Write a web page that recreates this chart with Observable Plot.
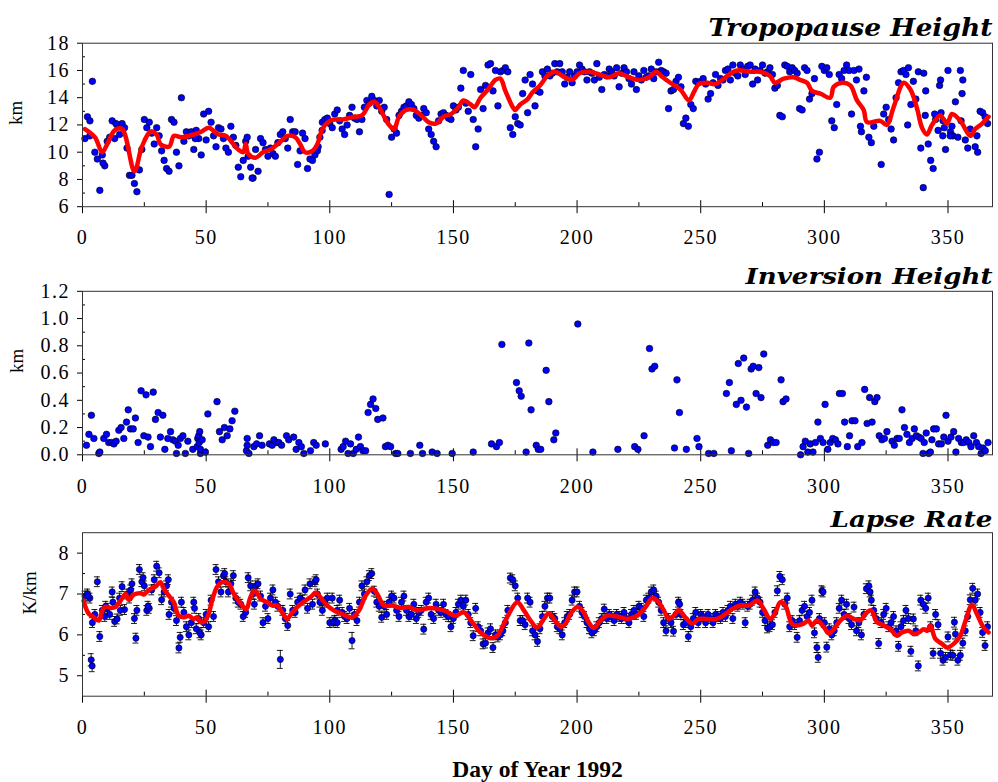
<!DOCTYPE html>
<html><head><meta charset="utf-8">
<script src="https://cdn.jsdelivr.net/npm/d3@7"></script>
<script src="https://cdn.jsdelivr.net/npm/@observablehq/plot@0.6"></script>
<style>
body{margin:0;background:#fff;}
#wrap{position:relative;width:998px;height:782px;overflow:hidden;}
.panel{position:absolute;left:0;}
g[aria-label$="tick label"] text{letter-spacing:1.5px;font-family:"Liberation Serif","Times New Roman",serif !important;font-variant:normal !important;}
</style></head><body><div id="wrap"></div>
<script>
// ---------- Tropopause height (km), one value per day, day 1..366 ----------
const tpKm = [
11.0,12.6,12.3,15.2,10.0,9.5,7.2,9.8,9.0,10.8,
11.1,12.3,11.0,12.0,11.3,12.1,11.8,10.3,8.3,8.3,
7.7,7.1,8.7,10.2,12.4,11.8,12.2,11.4,10.6,11.8,
11.2,10.1,9.4,8.8,8.6,12.4,12.2,10.0,9.0,14.0,
10.8,11.5,11.2,11.5,10.2,11.6,11.0,9.8,12.8,10.9,
13.0,12.2,11.2,10.4,11.8,11.7,11.0,10.3,10.0,11.9,
11.1,10.5,8.9,8.2,9.4,10.8,9.7,8.9,8.1,10.2,
8.6,11.0,10.7,10.2,9.7,10.3,9.9,9.7,10.7,11.3,
11.5,11.0,10.3,12.4,11.5,11.5,9.1,10.1,11.4,11.0,
8.8,9.5,9.4,9.8,10.1,11.1,12.2,12.4,12.5,12.1,
11.8,12.8,13.1,12.3,11.7,11.3,12.0,12.7,13.3,12.5,
12.4,11.5,12.4,13.3,13.8,13.6,14.1,13.8,13.4,13.8,
13.0,13.3,12.4,6.9,11.1,11.7,11.4,12.7,13.0,13.3,
13.4,13.7,13.5,13.2,12.7,12.5,12.7,13.2,12.9,11.7,
11.3,10.8,10.4,12.3,12.8,12.9,12.7,12.5,12.4,13.4,
13.1,13.3,14.7,16.0,13.6,13.0,15.7,12.4,10.4,11.7,
14.6,13.2,14.9,16.4,16.5,14.5,16.0,13.4,15.9,16.0,
16.2,15.9,11.8,11.3,12.6,12.1,12.0,14.3,15.3,12.9,
15.7,15.0,13.4,14.5,14.4,15.9,15.6,16.1,15.6,15.8,
16.5,15.9,16.5,15.9,15.0,15.5,15.9,15.1,15.6,15.9,
16.4,16.1,15.9,15.3,15.9,15.8,15.3,16.5,15.5,14.6,
15.7,15.6,16.1,15.9,15.6,16.2,14.8,15.8,16.2,15.9,
15.4,15.0,15.9,14.6,15.6,15.3,16.0,15.5,15.6,16.1,
15.4,15.9,16.6,16.0,15.9,15.8,13.2,14.5,14.6,15.2,
15.5,14.8,12.1,12.5,11.9,13.5,13.2,15.2,15.1,15.2,
15.4,15.0,13.9,14.3,15.1,15.7,14.9,15.4,15.3,16.0,
16.1,15.3,16.4,15.8,15.6,16.4,16.1,15.7,16.3,16.4,
15.0,16.1,15.3,16.0,16.4,15.8,15.9,16.2,15.7,14.7,
14.9,12.7,12.6,16.4,16.3,15.9,16.2,16.0,15.8,13.2,
13.1,16.2,16.0,13.9,14.3,15.4,9.5,10.0,16.3,16.0,
16.2,15.7,12.3,11.8,13.5,15.7,15.4,16.0,16.4,16.0,
12.8,16.0,15.3,16.1,11.5,14.5,15.5,11.1,10.7,11.9,
null,null,9.1,12.8,13.3,12.4,11.7,10.9,14.0,15.1,
15.9,16.0,15.7,16.2,13.5,15.2,13.9,15.9,10.3,7.4,
14.5,10.6,9.4,8.8,12.4,11.6,15.3,12.3,10.2,16.0,
11.5,11.2,13.7,11.1,16.0,15.3,10.9,10.3,11.7,null,
10.4,10.0,13.0,12.9,12.6,12.1];
// second soundings on some days [day, km]
const tpExtra = [[3,11.2],[8.3,9.2],[13.5,12.1],[45.6,11.0],[66.6,11.1],[68.6,8.1],[95.3,10.4],[96.9,11.6],
[314.6,11.9],[333.7,12.0],[340.2,15.8],[340.8,12.7],[344.6,12.8],[346.6,14.9],[347.2,12.9],[347.9,11.2],
[348.5,11.8],[350.9,11.2],[351.6,11.9],[355.3,12.3],[355.7,14.3],[361.7,11.2]];
// smoothed tropopause height [day, km]
const tpSmooth = [[1,11.7],[5,11.1],[8,10.0],[10,10.6],[13,11.6],[16,11.7],[21,8.6],[24,10.4],[27.5,11.5],[30,11.3],
[31.5,10.6],[35,10.4],[37,11.2],[40,11.1],[45,11.3],[48,11.5],[51,11.8],[55,11.3],[58,11.2],[61,10.6],[63,10.2],
[65,10.0],[66,10.6],[67,9.9],[70,9.6],[73,10.0],[76,10.2],[79,10.6],[83,11.2],[86,11.1],[88,10.6],[90,10.0],
[93,10.1],[95,10.6],[97,11.7],[100,12.3],[103,12.4],[105,12.4],[110,12.6],[113,12.7],[116,13.5],[118,13.7],
[120,13.3],[122,12.6],[124,12.0],[126,11.7],[128,12.6],[131,13.1],[134,13.1],[137,12.7],[140,12.2],[143,12.1],
[146,12.6],[149,12.8],[152,13.3],[154,13.8],[157,13.5],[158.5,13.3],[161,14.0],[164,14.6],[167,15.3],[169,15.4],
[171,14.5],[174,13.3],[175,13.1],[177,13.5],[180,13.9],[182,14.4],[185,14.9],[188,15.6],[191,15.9],[195,15.5],
[198,15.3],[201,15.8],[205,15.9],[209,15.7],[213,15.5],[217,15.8],[221,15.5],[225,15.3],[229,15.5],[232,15.9],
[234,15.6],[237.7,15.1],[241.8,14.6],[245.2,13.8],[247.2,14.4],[249.2,15.0],[252.6,15.1],[256,15.0],[260.7,15.6],
[264.7,16.0],[270,15.9],[274,15.9],[278,15.6],[280,15.1],[283.6,15.4],[287.6,15.5],[290.3,15.3],[293,15.1],
[295,14.5],[298.4,14.3],[302.4,14.0],[303.8,14.8],[307.2,15.1],[310.5,14.9],[313.2,13.8],[315.9,13.1],[317.3,12.2],
[322.6,12.3],[325.3,12.0],[328,13.3],[332.1,15.1],[334.8,14.6],[337.5,13.2],[339.5,11.8],[341.5,11.3],[343.5,12.0],
[346.9,12.7],[349.6,12.1],[351.6,12.8],[355,12.3],[359,11.2],[361,11.7],[363.8,12.1],[366.4,12.6]];

// ---------- Inversion height (km) [day, km] ----------
const inversion = [[1.6,0.07],[2.6,0.15],[3.6,0.29],[4.6,0.12],[6.6,0.01],[7.0,0.02],[8.6,0.12],[9.7,0.15],[10.6,0.09],
[11.7,0.09],[12.7,0.08],[13.6,0.10],[14.7,0.18],[15.6,0.20],[16.7,0.12],[17.8,0.24],[18.5,0.33],[19.4,0.19],[20.5,0.19],
[21.4,0.27],[22.5,0.09],[23.7,0.47],[24.8,0.14],[25.7,0.44],[26.5,0.13],[27.5,0.06],[28.6,0.46],[29.5,0.26],[30.6,0.31],
[31.5,0.13],[32.5,0.29],[33.3,0.04],[34.5,0.12],[35.6,0.17],[36.5,0.11],[37.6,0.10],[38.0,0.01],[38.7,0.07],[39.6,0.12],
[40.6,0.14],[41.6,0.01],[42.6,0.10],[44.6,0.04],[46.4,0.06],[46.6,0.12],[47.0,0.14],[47.2,0.09],[47.4,0.17],[47.7,0.01],
[47.7,0.04],[48.4,0.11],[49.7,0.02],[50.7,0.30],[54.4,0.39],[55.4,0.17],[56.5,0.11],[57.4,0.20],[58.5,0.14],[59.6,0.19],
[60.5,0.25],[61.6,0.32],[66.3,0.03],[66.6,0.12],[66.6,0.07],[67.3,0.01],[69.3,0.06],[70.4,0.08],[71.6,0.14],[72.6,0.07],
[75.6,0.08],[76.7,0.07],[77.4,0.11],[78.4,0.09],[79.4,0.09],[80.5,0.07],[82.5,0.14],[83.4,0.11],[85.4,0.13],[86.4,0.04],
[87.5,0.09],[88.5,0.06],[89.5,0.01],[92.2,0.03],[93.5,0.09],[94.5,0.07],[98.2,0.08],
[104.6,0.04],[105.4,0.06],[106.4,0.10],[107.4,0.01],[108.4,0.08],[109.5,0.01],[110.7,0.04],[111.6,0.13],[112.4,0.06],
[113.4,0.03],[114.5,0.03],[115.5,0.31],[116.5,0.37],[117.5,0.41],[118.6,0.34],[119.4,0.26],[121.5,0.27],[122.5,0.06],
[123.5,0.07],[124.6,0.06],[126.6,0.01],[127.5,0.01],[132.6,0.01],[136.4,0.07],[137.5,0.01],[141.4,0.02],[143.4,0.01],
[149.5,0.01],[158.0,0.02],[165.4,0.08],[167.4,0.06],[168.6,0.09],[169.6,0.81],[175.5,0.53],[176.6,0.47],[177.4,0.43],
[179.4,0.02],[180.5,0.82],[181.4,0.33],[183.5,0.07],[184.3,0.04],[185.3,0.04],[187.5,0.62],[188.6,0.39],[190.6,0.11],
[191.4,0.16],[200.3,0.96],[206.4,0.02],[216.5,0.04],[223.3,0.06],[224.6,0.04],[227.1,0.14],[229.3,0.78],[230.3,0.63],
[231.4,0.65],
[239.4,0.05],[240.4,0.55],[241.4,0.31],[244.2,0.04],[248.5,0.12],[249.3,0.06],[253.2,0.01],[255.3,0.01],[260.4,0.45],
[261.6,0.53],[262.4,0.03],[264.4,0.37],[265.2,0.67],[266.3,0.40],[267.4,0.71],[268.5,0.35],[269.4,0.01],[270.4,0.63],
[271.2,0.65],[272.4,0.45],[273.5,0.64],[274.4,0.42],[275.5,0.74],[277.1,0.07],[278.2,0.11],[279.3,0.09],[280.5,0.09],
[282.5,0.55],[283.3,0.39],[284.5,0.41],[290.4,0.00],[291.4,0.06],[292.3,0.10],[293.3,0.02],[294.3,0.08],[295.4,0.02],
[296.4,0.09],[297.4,0.24],[298.4,0.12],[299.5,0.09],[300.3,0.37],[301.4,0.04],[302.4,0.09],[303.4,0.12],[304.5,0.11],
[305.5,0.08],[306.1,0.45],[307.3,0.45],[308.2,0.24],[309.3,0.06],[310.2,0.14],[311.2,0.25],[312.4,0.25],[313.5,0.06],
[315.2,0.09],[316.3,0.48],[317.3,0.23],[318.3,0.42],[319.3,0.24],[320.4,0.39],[321.3,0.42],[322.2,0.14],[323.3,0.11],
[324.3,0.12],[325.3,0.17],[327.4,0.10],[328.3,0.07],[329.4,0.12],[330.3,0.12],[331.4,0.33],[332.4,0.20],[333.4,0.15],
[334.4,0.09],[335.5,0.12],[336.4,0.19],[337.2,0.14],[338.2,0.13],[339.1,0.12],[339.9,0.01],[340.4,0.09],[341.2,0.16],
[342.2,0.01],[342.9,0.02],[343.5,0.11],[344.2,0.19],[345.3,0.19],[346.2,0.08],[347.3,0.08],[348.3,0.13],[349.2,0.29],
[350.0,0.10],[351.2,0.13],[352.3,0.17],[353.2,0.02],[354.3,0.12],[355.4,0.09],[356.3,0.09],[357.4,0.11],[358.4,0.09],
[359.3,0.06],[360.4,0.14],[361.5,0.09],[362.4,0.06],[363.4,0.01],[364.2,0.05],[365.1,0.03],[366.2,0.09]];

// ---------- Lapse rate (K/km), one value per day, day 1..366 ----------
const lrKm = [
6.95,7.0,6.9,6.3,6.5,7.3,5.96,6.6,6.45,6.65,
6.5,7.05,6.33,6.39,6.9,7.18,6.62,7.0,6.9,7.25,
6.4,6.6,7.6,7.3,7.2,6.6,6.65,7.1,7.35,7.68,
7.52,6.86,7.05,7.2,6.5,6.8,6.65,6.35,5.68,6.8,
6.55,6.2,6.0,6.3,6.8,6.15,6.4,6.0,6.3,6.5,
6.2,6.85,6.45,7.6,7.3,7.05,7.45,7.3,7.05,7.25,
7.45,6.9,6.8,6.75,6.45,6.55,7.4,7.2,7.0,7.2,
7.25,6.95,6.3,6.7,6.4,6.9,7.1,6.8,6.7,5.4,
6.6,6.4,6.23,7.0,6.6,6.55,6.8,6.9,6.85,7.1,
6.65,7.25,6.75,7.3,7.0,6.8,6.6,6.8,6.9,6.3,
6.9,6.35,6.6,6.85,6.55,6.45,6.4,6.65,5.86,6.5,
6.35,6.8,7.2,7.0,7.3,7.45,7.5,7.07,6.8,6.7,
6.43,6.7,6.5,6.8,6.95,6.9,6.6,6.45,6.8,6.95,
6.6,6.45,6.5,6.75,6.4,6.55,6.6,6.14,6.8,6.9,
6.5,6.4,6.75,6.6,6.55,6.75,6.5,6.45,6.2,6.4,
6.55,6.75,6.85,6.7,6.85,6.5,6.3,5.98,6.65,6.2,
6.1,5.78,5.8,6.05,6.15,5.69,6.0,5.95,6.0,6.1,
6.3,6.6,7.39,7.35,7.2,6.9,6.35,6.35,6.25,6.9,
6.8,6.1,6.0,5.84,6.15,6.45,6.7,6.9,6.9,6.45,
6.4,6.2,6.15,6.0,6.3,6.45,6.5,6.85,7.05,7.05,
6.7,6.55,6.45,6.3,6.15,6.05,6.1,6.2,6.3,6.4,
6.63,6.4,6.5,6.45,6.35,6.5,6.45,6.4,6.55,6.4,
6.3,6.5,6.6,6.5,6.7,6.65,6.45,6.85,6.9,7.05,
7.1,6.95,6.8,6.6,6.3,6.1,6.4,6.3,6.09,6.5,
6.8,6.5,6.25,6.3,5.96,6.2,6.4,6.55,6.3,6.5,
6.45,6.3,6.5,6.4,6.3,6.5,6.45,6.4,6.55,6.45,
6.6,6.7,6.4,6.75,6.7,6.8,6.75,6.3,6.7,6.75,
6.85,7.05,6.9,6.8,6.55,6.35,6.17,6.2,6.25,6.55,
7.08,7.43,7.35,6.75,6.9,6.2,6.35,6.25,5.94,6.35,
6.6,6.7,6.45,6.55,6.85,6.05,5.69,6.4,7.08,6.3,
5.7,6.15,6.0,6.1,6.3,6.65,6.85,6.5,6.75,6.4,
6.25,6.68,6.1,6.3,6.0,6.5,7.13,7.2,6.85,6.6,
6.4,5.79,6.3,6.5,6.65,6.2,6.3,6.45,6.1,5.72,
6.2,6.35,6.6,6.4,5.6,6.39,6.1,5.24,6.85,6.75,
6.65,6.9,6.2,5.55,6.5,6.25,5.55,5.38,5.45,5.95,
5.51,5.5,6.02,5.38,5.5,5.8,6.1,6.45,6.86,7.14,
6.85,7.0,6.55,6.06,5.74,6.2];
// second soundings [day, K/km]
const lrExtra = [[2.3,6.95],[3.5,5.39],[3.9,5.24],[9.4,6.7],[12.3,6.8],[15.3,6.6],[19.5,7.1],[21.6,5.92],[24.5,7.4],
[26.5,6.7],[34.7,7.35],[39.5,5.94],[45.3,6.65],[47.5,6.05],[57.5,7.5],[69.5,6.75],[94.5,7.35],[101.5,6.31],[103,6.3],
[241.5,6.75],[297.5,5.45],[299.5,7.05],[318.5,7.05],[352.6,6.31]];
const lrErrDefault = 0.12;
const lrErrWide = [[3.5,0.15],[3.9,0.14],[80,0.22],[109,0.2]];
// smoothed lapse rate [day, K/km]
const lrSmooth = [[0.5,6.84],[1.2,6.68],[2.6,6.51],[4.6,6.43],[6.6,6.35],[8,6.6],[9.3,6.69],[11.3,6.66],[13.3,6.68],
[15.4,6.84],[17.4,7.0],[18.7,6.86],[20.8,6.99],[23.5,7.02],[24.8,6.99],[26.8,7.1],[29.5,7.18],[31.5,7.29],[32.9,7.13],
[34.9,6.96],[36.9,6.8],[38.9,6.47],[41,6.43],[43,6.47],[45,6.39],[46.4,6.43],[47.7,6.31],[49.7,6.35],[51,6.51],
[52.4,6.84],[54.4,7.17],[56.5,7.29],[59.2,7.25],[61.2,7.0],[64.6,6.72],[66.3,6.63],[67.9,6.92],[69.9,7.08],[72,6.88],
[74.7,6.8],[76.7,6.72],[78.7,6.72],[80.7,6.55],[82.7,6.39],[84.8,6.55],[87.5,6.72],[90.2,6.84],[92.9,6.96],[94.2,7.04],
[96.2,6.92],[98.9,6.72],[101.6,6.6],[104.3,6.53],[109,6.43],[111.8,6.6],[114.5,6.96],[117.1,7.13],[119.2,7.0],
[121.9,6.72],[125.2,6.72],[128.6,6.66],[132,6.68],[135.3,6.6],[140.7,6.66],[146.1,6.6],[150.8,6.47],[154.2,6.55],
[157.6,6.31],[161,6.06],[165,5.92],[167.7,5.98],[170.4,6.27],[172.4,6.51],[175.8,6.8],[178.5,6.6],[181.2,6.35],
[183.9,6.18],[186.6,6.39],[188.6,6.53],[190.6,6.39],[193.3,6.2],[195.3,6.27],[197.3,6.51],[200.3,6.69],[202.7,6.55],
[204.7,6.31],[206.8,6.17],[209.5,6.35],[212.2,6.47],[216.2,6.45],[220.2,6.39],[224.3,6.47],[227.7,6.68],[230.4,6.9],
[232.4,6.84],[235.1,6.6],[237.1,6.39],[239.1,6.47],[241.1,6.6],[243.8,6.43],[246.5,6.28],[249.2,6.39],[252.6,6.39],
[256.6,6.39],[260,6.51],[262.7,6.63],[266,6.72],[269.4,6.72],[273,6.84],[275.5,6.63],[278.2,6.39],[280.2,6.55],
[282.2,6.8],[284.2,6.72],[286.9,6.27],[289,6.23],[291.7,6.28],[293.7,6.35],[295,6.23],[297,6.35],[299.7,6.2],
[301.8,6.04],[303.8,6.14],[306.5,6.35],[309.2,6.47],[311.9,6.39],[314.6,6.36],[316.6,6.51],[318.9,6.6],[321.3,6.31],
[324,6.23],[326.7,6.14],[329.4,5.98],[331.4,6.06],[334.1,6.1],[336.1,6.02],[338.2,6.06],[340.2,6.14],[341.5,6.1],
[342.9,6.23],[344.9,5.9],[347.6,5.78],[349.6,5.69],[352.3,5.78],[355,5.98],[356.9,6.31],[359.7,6.74],[361.7,6.51],
[364.4,6.18],[366.4,6.06]];

// ---------- axes ----------
const xDomain = [0, 368];
const xMajor = [0,50,100,150,200,250,300,350];
const xMinor = [25,75,125,175,225,275,325];
const tpTicks = [6,8,10,12,14,16,18], tpMinor = [7,9,11,13,15,17];
const ivTicks = [0,0.2,0.4,0.6,0.8,1.0,1.2], ivMinor = [0.1,0.3,0.5,0.7,0.9,1.1];
const lrTicks = [5,6,7,8], lrMinor = [5.5,6.5,7.5];
const xTitle = "Day of Year 1992";

// ---------- build ----------
const W = 998, ML = 82, MR = 6, IH = 163.5, IW = W - ML - MR;
const SERIF = '"Liberation Serif", "Times New Roman", serif';
const pairs = a => a.map(([day, v]) => ({day, v}));
const daily = a => a.map((v, i) => ({day: i + 1, v})).filter(d => d.v != null);
const tpRows = daily(tpKm).concat(pairs(tpExtra));
const ivRows = pairs(inversion);
const wide = new Map(lrErrWide);
const lrRows = daily(lrKm).concat(pairs(lrExtra)).map(d => ({...d, e: wide.get(d.day) ?? lrErrDefault}));

const dotStyle = {x: "day", y: "v", r: 3.3, fill: "#0000ff", stroke: "#000", strokeWidth: 0.6};
const lineStyle = {x: "day", y: "v", stroke: "#ff0000", strokeWidth: 4.5, strokeLinejoin: "round", strokeLinecap: "round", curve: "catmull-rom"};

function panel({top, marginTop, height, yDomain, yMajor, yMinor, yFmt, ylabel, ylabelDx, title, titleDy, titleSize, titleLen, marks, extra = []}) {
  const chart = Plot.plot({
    width: W, height, marginLeft: ML, marginRight: MR, marginTop, marginBottom: height - marginTop - IH,
    style: {fontFamily: SERIF, fontSize: "20px", color: "#000", background: "#fff", overflow: "visible"},
    x: {domain: xDomain},
    y: {domain: yDomain},
    marks: [
      Plot.axisX({ticks: xMajor, tickSize: 7, tickPadding: 16.5, label: null, tickFormat: d3.format("d"), fontFamily: SERIF, fontSize: 20}),
      Plot.axisY({ticks: yMajor, tickSize: 5, tickPadding: 7.5, label: null, tickFormat: yFmt, fontFamily: SERIF, fontSize: 20}),
      Plot.tickX(xMajor, {x: d => d, insetTop: IH - 6, stroke: "#000"}),
      Plot.tickX(xMinor, {x: d => d, insetTop: IH - 4, stroke: "#000"}),
      Plot.tickY(yMinor, {y: d => d, insetRight: IW - 3, stroke: "#000"}),
      ...marks,
      Plot.frame({stroke: "#333"}),
      Plot.text([title], {text: d => d, frameAnchor: "top-right", textAnchor: "end", lineAnchor: "bottom", dy: titleDy,
        fontFamily: '"DejaVu Serif", serif', fontWeight: "bold", fontStyle: "italic", fontSize: titleSize, fill: "#000"}),
      Plot.text([ylabel], {text: d => d, frameAnchor: "left", rotate: -90, dx: ylabelDx, fontSize: 19, fontFamily: SERIF, fill: "#000"}),
      ...extra
    ]
  });
  chart.querySelectorAll("text").forEach(t => {
    if (t.textContent === title) { t.setAttribute("textLength", titleLen); t.setAttribute("lengthAdjust", "spacingAndGlyphs"); }
  });
  const div = document.createElement("div");
  div.className = "panel";
  div.style.top = top + "px";
  div.appendChild(chart);
  document.getElementById("wrap").appendChild(div);
}

panel({top: 0, marginTop: 42.7, height: 250, yDomain: [6, 18], yMajor: tpTicks, yMinor: tpMinor, yFmt: d3.format("d"),
  ylabel: "km", ylabelDx: -67, title: "Tropopause Height", titleDy: -7.7, titleSize: 25, titleLen: 284,
  marks: [Plot.dot(tpRows, dotStyle), Plot.line(pairs(tpSmooth), lineStyle)]});

panel({top: 250, marginTop: 40.8, height: 250, yDomain: [0, 1.2], yMajor: ivTicks, yMinor: ivMinor, yFmt: d3.format(".1f"),
  ylabel: "km", ylabelDx: -66, title: "Inversion Height", titleDy: -7.5, titleSize: 23, titleLen: 247,
  marks: [Plot.dot(ivRows, dotStyle)]});

panel({top: 500, marginTop: 32.2, height: 282, yDomain: [4.5, 8.5], yMajor: lrTicks, yMinor: lrMinor, yFmt: d3.format("d"),
  ylabel: "K/km", ylabelDx: -53, title: "Lapse Rate", titleDy: -6.2, titleSize: 23, titleLen: 162,
  marks: [
    Plot.ruleX(lrRows, {x: "day", y1: d => d.v - d.e, y2: d => d.v + d.e, stroke: "#000", strokeWidth: 0.9}),
    Plot.ruleY(lrRows, {y: d => d.v + d.e, x1: d => d.day - 1.2, x2: d => d.day + 1.2, stroke: "#000", strokeWidth: 0.9}),
    Plot.ruleY(lrRows, {y: d => d.v - d.e, x1: d => d.day - 1.2, x2: d => d.day + 1.2, stroke: "#000", strokeWidth: 0.9}),
    Plot.dot(lrRows, {...dotStyle, r: 3.1}),
    Plot.line(pairs(lrSmooth), lineStyle)
  ],
  extra: [Plot.text([xTitle], {text: d => d, frameAnchor: "bottom", lineAnchor: "bottom", dy: 80.3, fontWeight: "bold", fontSize: 23.5, fontFamily: SERIF, fill: "#000"})]});
</script>
</body></html>
